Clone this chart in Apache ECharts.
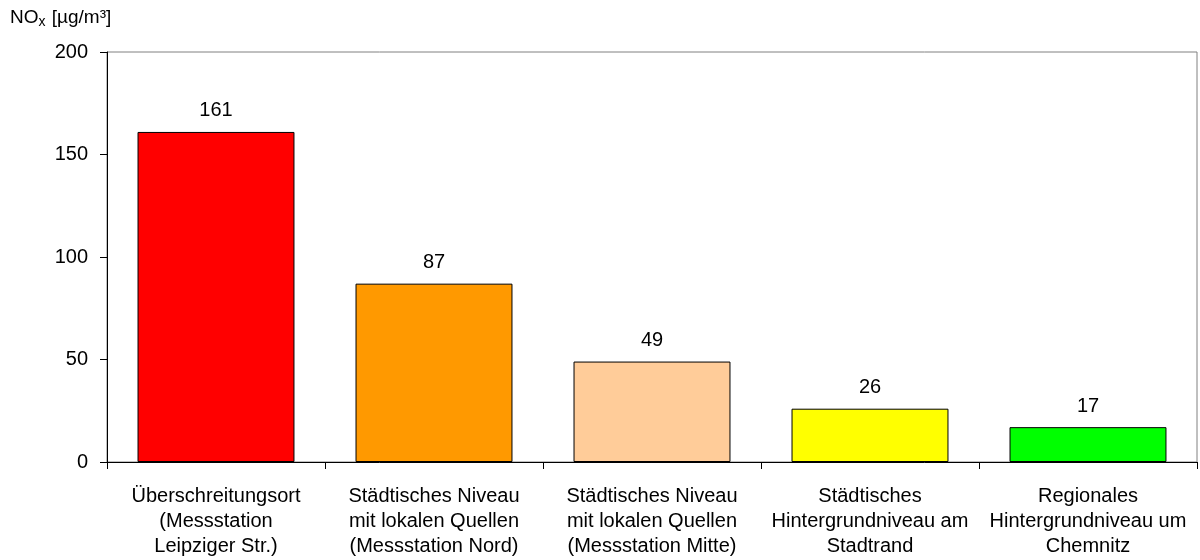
<!DOCTYPE html>
<html><head><meta charset="utf-8">
<script src="https://cdn.jsdelivr.net/npm/echarts@6/dist/echarts.min.js"></script>
<style>html,body{margin:0;padding:0;background:#fff}#c{width:1200px;height:560px}</style>
</head><body><div id="c"></div>
<script>
const categories = [
  'Überschreitungsort\n(Messstation\nLeipziger Str.)',
  'Städtisches Niveau\nmit lokalen Quellen\n(Messstation Nord)',
  'Städtisches Niveau\nmit lokalen Quellen\n(Messstation Mitte)',
  'Städtisches\nHintergrundniveau am\nStadtrand',
  'Regionales\nHintergrundniveau um\nChemnitz'
];
const values = [161, 87, 49, 26, 17];
const barColors = ['#FF0000', '#FF9900', '#FFCC99', '#FFFF00', '#00FF00'];
const yTicks = [0, 50, 100, 150, 200];

const chart = echarts.init(document.getElementById('c'));
const font = 'Liberation Sans, Arial, sans-serif';
chart.setOption({
  animation: false,
  graphic: [{
    type: 'text', left: 10, top: 8,
    style: {
      text: '{a|NO}{s|x}{a| [µg/m³]}',
      rich: {
        a: { fontSize: 19, fontFamily: font, fill: '#000' },
        s: { fontSize: 14, fontFamily: font, fill: '#000', padding: [9, 1, 0, 0] }
      }
    }
  }],
  grid: { left: 107, right: 3, top: 52, bottom: 98, show: true, borderColor: '#808080', borderWidth: 1 },
  xAxis: {
    type: 'category', data: categories,
    axisLine: { lineStyle: { color: '#000', width: 1 } },
    axisTick: { show: true, length: 7, lineStyle: { color: '#000' } },
    axisLabel: { interval: 0, color: '#000', fontSize: 20, fontFamily: font, lineHeight: 25, margin: 22 }
  },
  yAxis: {
    type: 'value', min: yTicks[0], max: yTicks[yTicks.length - 1], interval: 50,
    axisLine: { show: true, lineStyle: { color: '#000', width: 1 } },
    axisTick: { show: true, length: 7, lineStyle: { color: '#000' } },
    splitLine: { show: false },
    axisLabel: { color: '#000', fontSize: 20, fontFamily: font, margin: 19 }
  },
  series: [{
    type: 'bar', barWidth: '72%',
    data: values.map((v, i) => ({ value: v, itemStyle: { color: barColors[i] } })),
    itemStyle: { borderColor: '#000', borderWidth: 1 },
    label: { show: true, position: 'top', distance: 11, color: '#000', fontSize: 20, fontFamily: font }
  }]
});
</script></body></html>
